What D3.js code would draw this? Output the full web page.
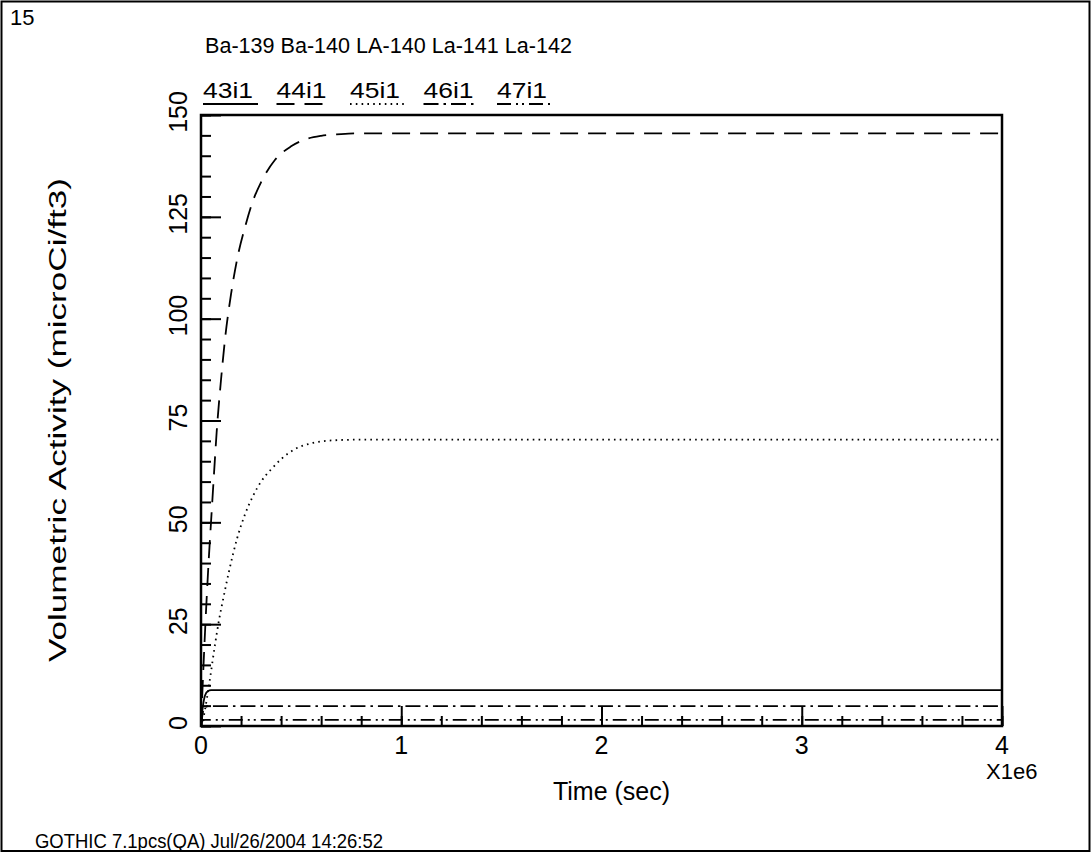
<!DOCTYPE html>
<html>
<head>
<meta charset="utf-8">
<script src="https://cdn.jsdelivr.net/npm/d3@7"></script>
<style>
    body { margin: 0; background: #fff; }
    text { font-family: "Liberation Sans", Arial, sans-serif; fill: #000; }
</style>
</head>
<body>
<div id="chart"></div>
<script>
// Data (time in seconds, activity in microCi/ft3)
const seriesNames = ["43i1", "44i1", "45i1", "46i1", "47i1"];
const titleText = "Ba-139 Ba-140 LA-140 La-141 La-142";

const t43 = [0, 5e3, 1e4, 2e4, 3.5e4, 5e4, 4e6];
const v43 = [0, 3, 5, 7.5, 8.6, 8.8, 8.8];

const t44 = [0, 1e4, 2e4, 3e4, 4e4, 5e4, 6.5e4, 7.8e4, 1e5, 1.2e5, 1.5e5, 1.8e5, 2.2e5, 2.6e5, 3e5, 3.7e5, 4.5e5, 5.2e5, 6e5, 7e5, 8e5, 1e6, 4e6];
const v44 = [0, 12, 23, 33, 42, 50, 62, 72, 85, 95, 106, 114.5, 122.5, 129, 133.5, 139, 142.3, 144, 144.9, 145.3, 145.5, 145.5, 145.5];

const t45 = [0, 1e4, 2e4, 4e4, 7e4, 9e4, 1.1e5, 1.4e5, 1.8e5, 2.2e5, 2.6e5, 3e5, 3.5e5, 4e5, 4.7e5, 5.5e5, 6.5e5, 8e5, 1e6, 4e6];
const v45 = [0, 1.5, 4, 10, 20, 26, 31, 38, 46, 52, 56.5, 60, 63, 65.5, 68, 69.4, 70.1, 70.3, 70.3, 70.3];

const t46 = [0, 5e3, 1e4, 2e4, 4e4, 4e6];
const v46 = [0, 2, 3.5, 4.6, 4.9, 4.9];

const t47 = [0, 5e3, 2e4, 4e6];
const v47 = [0, 1.2, 1.5, 1.5];

const xMajorTicks = [0, 1e6, 2e6, 3e6, 4e6];
const yMajorTicks = [0, 25, 50, 75, 100, 125, 150];

// Line styles, one per series
const dashStyles = ["none", "18,10", "1.6,4.2", "15,5,2.5,5", "14,5,2,4,2,5"];

const seriesT = [t43, t44, t45, t46, t47];
const seriesV = [v43, v44, v45, v46, v47];

function drawChart() {
    const width = 1092, height = 853;
    const plot = {left: 201, right: 1002, top: 115, bottom: 726};

    const svg = d3.select("#chart").append("svg")
        .attr("width", width)
        .attr("height", height);

    // Outer page border
    svg.append("rect")
        .attr("x", 1.5).attr("y", 1.5)
        .attr("width", width - 4).attr("height", height - 3.5)
        .attr("fill", "none").attr("stroke", "#000").attr("stroke-width", 2);

    const xScale = d3.scaleLinear().domain([0, 4e6]).range([plot.left, plot.right]);
    const yScale = d3.scaleLinear().domain([0, 150]).range([plot.bottom, plot.top]);

    // Minor ticks (point inward)
    svg.append("g")
        .attr("transform", "translate(0," + plot.bottom + ")")
        .call(d3.axisBottom(xScale).ticks(20).tickSize(-10).tickFormat(""))
        .call(g => g.select(".domain").remove());
    svg.append("g")
        .attr("transform", "translate(" + plot.left + ",0)")
        .call(d3.axisLeft(yScale).tickValues(d3.range(0, 151, 5)).tickSize(-10).tickFormat(""))
        .call(g => g.select(".domain").remove());

    // Major ticks
    svg.append("g")
        .attr("transform", "translate(0," + plot.bottom + ")")
        .call(d3.axisBottom(xScale).tickValues(xMajorTicks).tickSize(-20).tickFormat(""))
        .call(g => g.select(".domain").remove());
    svg.append("g")
        .attr("transform", "translate(" + plot.left + ",0)")
        .call(d3.axisLeft(yScale).tickValues(yMajorTicks).tickSize(-20).tickFormat(""))
        .call(g => g.select(".domain").remove());

    svg.selectAll(".tick line").attr("stroke", "#000").attr("stroke-width", 2);

    // Frame
    svg.append("rect")
        .attr("x", plot.left).attr("y", plot.top)
        .attr("width", plot.right - plot.left).attr("height", plot.bottom - plot.top)
        .attr("fill", "none").attr("stroke", "#000").attr("stroke-width", 2.5);

    // Tick labels
    svg.selectAll(".xlab")
        .data(xMajorTicks)
        .enter().append("text")
        .attr("x", d => xScale(d))
        .attr("y", plot.bottom + 28)
        .attr("text-anchor", "middle")
        .style("font-size", "25px")
        .text(d => d / 1e6);

    svg.selectAll(".ylab")
        .data(yMajorTicks)
        .enter().append("text")
        .attr("transform", d => "translate(" + (plot.left - 14) + "," + (yScale(d) - 3) + ") rotate(-90)")
        .attr("text-anchor", "middle")
        .style("font-size", "25px")
        .text(d => d);

    svg.append("text")
        .attr("x", 986).attr("y", 779)
        .style("font-size", "22px")
        .text("X1e6");

    // Axis titles
    svg.append("text")
        .attr("x", (plot.left + plot.right) / 2 + 10)
        .attr("y", 800)
        .attr("text-anchor", "middle")
        .style("font-size", "25px")
        .text("Time (sec)");

    svg.append("text")
        .attr("transform", "translate(66,420) rotate(-90)")
        .attr("text-anchor", "middle")
        .attr("textLength", 484)
        .attr("lengthAdjust", "spacingAndGlyphs")
        .style("font-size", "23px")
        .text("Volumetric Activity (microCi/ft3)");

    // Page texts
    svg.append("text").attr("x", 10).attr("y", 25).style("font-size", "22px").text("15");
    svg.append("text").attr("x", 205).attr("y", 53)
        .attr("textLength", 367).attr("lengthAdjust", "spacingAndGlyphs")
        .style("font-size", "22px").text(titleText);
    svg.append("text").attr("x", 35).attr("y", 848)
        .attr("textLength", 348).attr("lengthAdjust", "spacingAndGlyphs")
        .style("font-size", "21px")
        .text("GOTHIC 7.1pcs(QA) Jul/26/2004 14:26:52");

    // Curves
    const line = d3.line()
        .x(d => xScale(d[0]))
        .y(d => yScale(d[1]))
        .curve(d3.curveMonotoneX);

    seriesNames.forEach((name, i) => {
        const pts = seriesT[i].map((t, j) => [t, seriesV[i][j]]);
        svg.append("path")
            .datum(pts)
            .attr("d", line)
            .attr("fill", "none")
            .attr("stroke", "#000")
            .attr("stroke-width", 1.8)
            .attr("stroke-dasharray", dashStyles[i]);
    });

    // Legend row above the frame
    const legendX = d3.scalePoint().domain(seriesNames).range([203, 497]);
    const legend = svg.selectAll(".legend")
        .data(seriesNames)
        .enter().append("g")
        .attr("transform", d => "translate(" + legendX(d) + ",0)");
    legend.append("text")
        .attr("y", 98)
        .attr("textLength", 50)
        .attr("lengthAdjust", "spacingAndGlyphs")
        .style("font-size", "22px")
        .text(d => d);
    legend.append("line")
        .attr("x1", 0).attr("x2", 55)
        .attr("y1", 104).attr("y2", 104)
        .attr("stroke", "#000")
        .attr("stroke-width", 1.8)
        .attr("stroke-dasharray", (d, i) => dashStyles[i]);
}

drawChart();
</script>
</body>
</html>
